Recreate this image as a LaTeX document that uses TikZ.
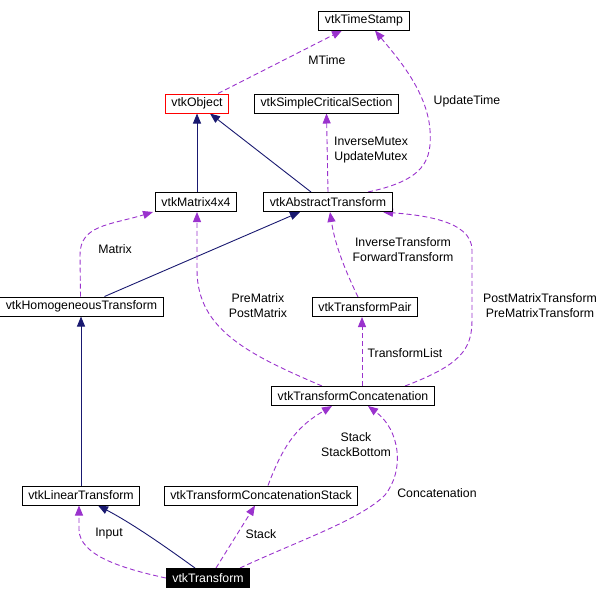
\documentclass[tikz,border=0pt]{standalone}
\usepackage{fontspec}
\setmainfont{Liberation Sans}
\usepackage{tikz}
\usetikzlibrary{arrows.meta}
\pgfdeclarelayer{edgelayer}
\pgfdeclarelayer{nodelayer}
\pgfsetlayers{edgelayer,nodelayer,main}
\definecolor{inheritblue}{HTML}{191970}
\definecolor{usepurple}{HTML}{9A32CD}
\tikzstyle{class}=[rectangle,fill=white,draw=black,line width=1pt,inner xsep=6pt,inner ysep=0pt,minimum height=19pt,font=\fontsize{12.3}{14}\selectfont]
\tikzstyle{incomplete}=[class,draw=red]
\tikzstyle{current}=[class,fill=black,text=white]
\tikzstyle{inherit}=[-{Triangle[length=10pt,width=8pt]},draw=inheritblue,line width=0.9pt]
\tikzstyle{uses}=[-{Triangle[length=10pt,width=8pt]},draw=usepurple,line width=0.9pt,dash pattern=on 5pt off 3pt]
\tikzstyle{edgelabel}=[align=center,inner sep=0pt,font=\fontsize{12.3}{15}\selectfont]

\begin{document}
\begin{tikzpicture}[x=1pt,y=-1pt]
	\useasboundingbox (0, 0) rectangle (612, 600);
	\begin{pgfonlayer}{nodelayer}
		\node [style=class] (0) at (364, 20.5) {vtkTimeStamp};
		\node [style=incomplete] (1) at (197, 103.5) {vtkObject};
		\node [style=class] (2) at (326.5, 103.5) {vtkSimpleCriticalSection};
		\node [style=class] (3) at (196, 202) {vtkMatrix4x4};
		\node [style=class] (4) at (328, 202) {vtkAbstractTransform};
		\node [style=class] (5) at (81.5, 306.5) {vtkHomogeneousTransform};
		\node [style=class] (6) at (365, 307) {vtkTransformPair};
		\node [style=class] (7) at (353, 396) {vtkTransformConcatenation};
		\node [style=class] (8) at (81, 495.5) {vtkLinearTransform};
		\node [style=class] (9) at (261, 495.5) {vtkTransformConcatenationStack};
		\node [style=current] (10) at (208, 578) {vtkTransform};
		\node [style=edgelabel] (11) at (327, 60) {MTime};
		\node [style=edgelabel] (12) at (467, 101) {UpdateTime};
		\node [style=edgelabel] (13) at (371, 150.5) {InverseMutex\\UpdateMutex};
		\node [style=edgelabel] (14) at (115, 249) {Matrix};
		\node [style=edgelabel] (15) at (403, 249.5) {InverseTransform\\ForwardTransform};
		\node [style=edgelabel] (16) at (258, 305.5) {PreMatrix\\PostMatrix};
		\node [style=edgelabel] (17) at (540, 306) {PostMatrixTransform\\PreMatrixTransform};
		\node [style=edgelabel] (18) at (405, 353) {TransformList};
		\node [style=edgelabel] (19) at (356, 445) {Stack\\StackBottom};
		\node [style=edgelabel] (20) at (437, 493) {Concatenation};
		\node [style=edgelabel] (21) at (109, 534) {Input};
		\node [style=edgelabel] (22) at (261, 534) {Stack};
	\end{pgfonlayer}
	\begin{pgfonlayer}{edgelayer}
		\draw [style=uses] ([xshift=21]1.north) to ([xshift=-22]0.south);
		\draw [style=uses] ([xshift=40]4.north) .. controls (425, 180) and (432, 160) .. (430, 130) .. controls (427, 90) and (395, 55) .. ([xshift=11]0.south);
		\draw [style=uses] (4.north) to (2.south);
		\draw [style=inherit] ([xshift=1]3.north) to (1.south);
		\draw [style=inherit] ([xshift=-17]4.north) to ([xshift=13]1.south);
		\draw [style=inherit] ([xshift=23]5.north) to ([xshift=-28]4.south);
		\draw [style=uses] ([xshift=-1]5.north) -- (80, 255) .. controls (80, 225) and (110, 225) .. ([xshift=-43]3.south);
		\draw [style=uses] ([xshift=-31]7.north) .. controls (250, 355) and (197, 330) .. (197, 270) -- ([xshift=1]3.south);
		\draw [style=uses] ([xshift=-7]6.north) .. controls (345, 270) and (335, 245) .. ([xshift=2]4.south);
		\draw [style=uses] ([xshift=52]7.north) .. controls (460, 365) and (472, 350) .. (472, 320) -- (472, 250) .. controls (472, 220) and (420, 215) .. ([xshift=55]4.south);
		\draw [style=uses] ([xshift=9]7.north) to ([xshift=-3]6.south);
		\draw [style=inherit] ([xshift=0]8.north) to ([xshift=-0.5]5.south);
		\draw [style=uses] ([xshift=7]9.north) .. controls (285, 440) and (300, 425) .. ([xshift=-21]7.south);
		\draw [style=uses] ([xshift=32]10.north) .. controls (300, 540) and (360, 520) .. (385, 495) .. controls (405, 470) and (400, 430) .. ([xshift=15]7.south);
		\draw [style=inherit] ([xshift=-13]10.north) .. controls (170, 550) and (135, 525) .. ([xshift=17]8.south);
		\draw [style=uses] (10.west) .. controls (120, 568) and (80, 555) .. (79, 530) -- ([xshift=-2]8.south);
		\draw [style=uses] ([xshift=8]10.north) to ([xshift=-6]9.south);
	\end{pgfonlayer}
\end{tikzpicture}
\end{document}
